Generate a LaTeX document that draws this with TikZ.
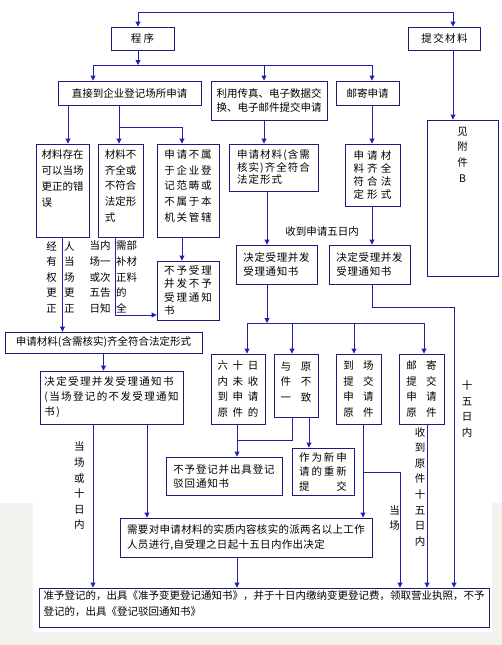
\documentclass[tikz,border=0pt]{standalone}
\usepackage{fontspec}
\setmainfont{Noto Sans CJK SC}
\usepackage{tikz}
\usetikzlibrary{calc, arrows.meta, positioning}
\definecolor{boxblue}{RGB}{28,28,128}
\definecolor{lineblue}{RGB}{32,32,172}
\definecolor{paper}{RGB}{242,242,238}
\newcommand\cfont[2]{\fontsize{10.5}{#1}\selectfont\addfontfeature{LetterSpace=#2}}
\tikzset{
    boxnode/.style = {draw=boxblue, line width=0.9pt, rectangle, fill=white, inner sep=0pt, align=left, font=\cfont{15.6}{0}},
    size/.style 2 args = {minimum width=#1pt, minimum height=#2pt},
    textnode/.style = {draw=none, fill=none, rectangle, inner sep=0pt, align=center, font=\cfont{15.6}{0}},
    connect/.style = {lineblue, line width=0.9pt, -{Triangle[length=5pt, width=5pt]}},
    joinline/.style = {lineblue, line width=0.9pt}
}
\begin{document}
\begin{tikzpicture}[x=1pt, y=-1pt]
    \useasboundingbox (0,0) rectangle (502,645);
    \fill[paper] (0,503) rectangle (502,645);
    \fill[white] (33,503) rectangle (492,632);

    \node [boxnode, name=prog, size={63}{23}, font=\cfont{15.6}{22}] at (142.5,38.5) {程序};
    \node [boxnode, name=submit, size={72}{23}, font=\cfont{15.6}{13}] at (444.5,38.5) {提交材料};
    \node [boxnode, name=direct, size={143}{24}] at (129.5,93) {直接到企业登记场所申请};
    \node [boxnode, name=fax, size={116}{39}, font=\cfont{14.3}{0}] at (269,100.5) {利用传真、电子数据交\\换、电子邮件提交申请};
    \node [boxnode, name=mail, size={63}{24}] at (367.5,93) {邮寄申请};
    \node [boxnode, name=annex, size={71}{156}, align=center, text depth=87pt] at (462.5,198) {见\\附\\件\\B};

    \node [boxnode, name=fix, size={53}{93}, font=\cfont{16}{0}, text depth=25pt] at (62.5,190.5) {材料存在\\可以当场\\更正的错\\误};
    \node [boxnode, name=lack, size={45}{93}, text depth=10pt] at (120.5,190.5) {材料不\\齐全或\\不符合\\法定形\\式};
    \node [boxnode, name=outside, size={62}{93}, font=\cfont{15.6}{17}, text depth=10pt] at (188,190.5) {申请不属\\于企业登\\记范畴或\\不属于本\\机关管辖};
    \node [boxnode, name=reject, size={62}{59}, font=\cfont{13.3}{18}] at (188,290.5) {不予受理\\并发不予\\受理通知\\书};
    \node [boxnode, name=faxok, size={89}{47}, font=\cfont{12.5}{10}] at (273.5,167.5) {申请材料(含需\\核实)齐全符合\\法定形式};
    \node [boxnode, name=mailok, size={55}{62}, font=\cfont{13.3}{30}] at (372.5,175) {申请材\\料齐全\\符合法\\定形式};
    \node [boxnode, name=faxacc, size={81}{39}, font=\cfont{14.3}{6}] at (276.5,264.5) {决定受理并发\\受理通知书};
    \node [boxnode, name=mailacc, size={81}{39}, font=\cfont{14.3}{6}] at (369.5,264.5) {决定受理并发\\受理通知书};

    \node [boxnode, name=fullok, size={197}{21}] at (103.5,342.5) {申请材料(含需核实)齐全符合法定形式};
    \node [boxnode, name=accept, size={143}{53}, font=\cfont{15}{13}] at (111.5,397.5) {决定受理并发受理通知书\\(当场登记的不发受理通知\\书)};
    \node [boxnode, name=late, size={54}{70}, font=\cfont{15.6}{45}] at (238,389) {六十日\\内未收\\到申请\\原件的};
    \node [boxnode, name=differ, size={44}{63}, font=\cfont{15.6}{95}, text depth=8pt] at (296,385.5) {与原\\件不\\一致};
    \node [boxnode, name=onsite, size={45}{70}, font=\cfont{15.6}{88}] at (358.5,389) {到场\\提交\\申请\\原件};
    \node [boxnode, name=posted, size={45}{70}, font=\cfont{15.6}{88}] at (421.5,389) {邮寄\\提交\\申请\\原件};
    \node [boxnode, name=refuse, size={116}{38}, font=\cfont{14}{8}] at (224,476) {不予登记并出具登记\\驳回通知书};
    \node [boxnode, name=resub, size={62}{47}, font=\cfont{14.5}{18}] at (323,471.5) {作为新申\\请的重新\\提　　交};
    \node [boxnode, name=verify, size={252}{39}, font=\cfont{15}{3}] at (246,537.5) {需要对申请材料的实质内容核实的派两名以上工作\\人员进行,自受理之日起十五日内作出决定};
    \node [boxnode, name=final, size={450}{39}, text depth=8.7pt] at (264,607.5) {准予登记的，出具《准予变更登记通知书》，并于十日内缴纳变更登记费，领取营业执照，不予\\登记的，出具《登记驳回通知书》};

    \node [textnode, name=byright, font=\cfont{15.6}{70}] at (60.5,277) {经人\\有当\\权场\\更更\\正正};
    \node [textnode, name=tellonce] at (100,277) {当内\\场一\\或次\\五告\\日知};
    \node [textnode, name=needall, align=left, anchor=west] at (116,277) {需部\\补材\\正料\\的\\全};
    \node [textnode, name=fivedays] at (322,232) {收到申请五日内};
    \node [textnode, name=tendays] at (79.3,486) {当\\场\\或\\十\\日\\内};
    \node [textnode, name=fifteen] at (467,409) {十\\五\\日\\内};
    \node [textnode, name=origfifteen] at (420,486.7) {收\\到\\原\\件\\十\\五\\日\\内};
    \node [textnode, name=onspot] at (394.7,518) {当\\场};

    \coordinate (topl) at (138,12);
    \coordinate (topr) at (453,12);
    \draw [connect] (topl) -- (topl |- prog.north);
    \draw [connect] (topl) -- (topr) -- (topr |- submit.north);
    \draw [connect] (submit.south -| topr) -- (annex.north -| topr);

    \coordinate (split) at (138,65);
    \coordinate (sl) at (93,65);
    \coordinate (sm) at (264,65);
    \coordinate (sr) at (372,65);
    \draw [connect] (prog.south -| split) -- (split);
    \draw [joinline] (sl) -- (sr);
    \draw [connect] (sl) -- (sl |- direct.north);
    \draw [connect] (sm) -- (sm |- fax.north);
    \draw [connect] (sr) -- (sr |- mail.north);

    \coordinate (dfix) at (68,127);
    \coordinate (dsplit) at (119,127);
    \coordinate (dr) at (182,127);
    \draw [connect] (direct.south -| dfix) -- (fix.north -| dfix);
    \draw [joinline] (direct.south -| dsplit) -- (dsplit) -- (dr);
    \draw [connect] (dsplit) -- (lack.north -| dsplit);
    \draw [connect] (dr) -- (outside.north -| dr);
    \draw [connect] (outside.south -| dr) -- (reject.north -| dr);
    \coordinate (lk) at (115,315);
    \draw [connect] (lack.south -| lk) -- (lk) -- (reject.west |- lk);
    \draw [connect] (fix.south) -- (fix.south |- fullok.north);
    \draw [connect] (fullok.south) -- (fullok.south |- accept.north);
    \coordinate (ak) at (93,430);
    \coordinate (av) at (147,430);
    \draw [connect] (accept.south -| ak) -- (final.north -| ak);
    \draw [connect] (accept.south -| av) -- (verify.north -| av);

    \coordinate (fx) at (267,323);
    \draw [connect] (fax.south -| sm) -- (faxok.north -| sm);
    \draw [connect] (faxok.south -| fx) -- (faxacc.north -| fx);
    \draw [connect] (faxacc.south -| fx) -- (fx);
    \draw [connect] (mail.south -| sr) -- (mailok.north -| sr);
    \draw [connect] (mailok.south -| sr) -- (mailacc.north -| sr);
    \coordinate (mk) at (372,307);
    \coordinate (mr) at (454,307);
    \draw [connect] (mailacc.south -| mk) -- (mk) -- (mr) -- (mr |- final.north);

    \coordinate (ra) at (247,323);
    \coordinate (rb) at (292,323);
    \coordinate (rc) at (354,323);
    \coordinate (rd) at (424,323);
    \draw [joinline] (ra) -- (rd);
    \draw [connect] (ra) -- (ra |- late.north);
    \draw [connect] (rb) -- (rb |- differ.north);
    \draw [connect] (rc) -- (rc |- onsite.north);
    \draw [connect] (rd) -- (rd |- posted.north);

    \coordinate (lr) at (237,440);
    \coordinate (dn) at (309,440);
    \draw [connect] (late.south -| lr) -- (refuse.north -| lr);
    \draw [joinline] (differ.south -| rb) -- (rb |- lr) -- (lr);
    \draw [connect] (differ.south -| dn) -- (resub.north -| dn);
    \coordinate (ok) at (363,472);
    \coordinate (oj) at (400,472);
    \draw [connect] (onsite.south -| ok) -- (verify.north -| ok);
    \draw [connect] (ok) -- (oj) -- (oj |- final.north);
    \coordinate (pk) at (427,430);
    \draw [connect] (posted.south -| pk) -- (final.north -| pk);
    \draw [connect] (verify.south -| lr) -- (final.north -| lr);
\end{tikzpicture}
\end{document}
